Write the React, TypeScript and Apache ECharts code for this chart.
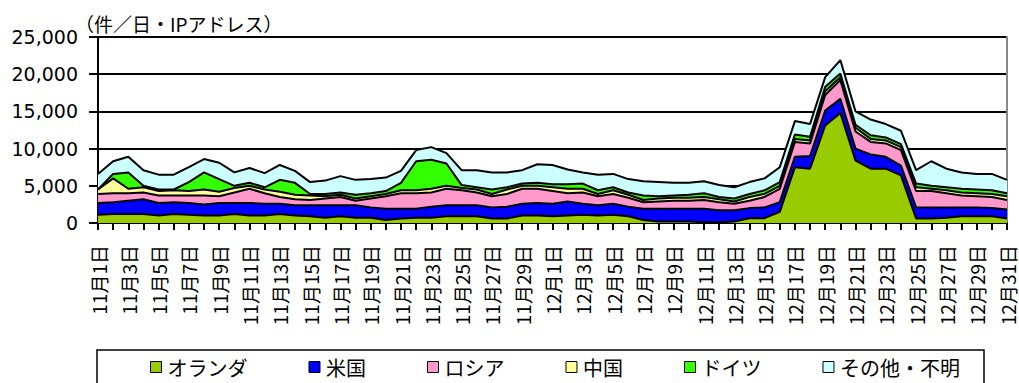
import React, { useEffect, useRef } from "react";
import * as echarts from "echarts";

// Daily counts per source country, 11/1 – 12/31
const days: string[] = [];
for (const [month, len] of [[11, 30], [12, 31]]) {
  for (let d = 1; d <= len; d++) days.push(`${month}月${d}日`);
}

const netherlands = [
  1100, 1200, 1200, 1200, 1000, 1200, 1100, 1000, 1000, 1200,
  1000, 1000, 1200, 1000, 900, 700, 900, 700, 700, 400,
  600, 700, 700, 900, 900, 900, 600, 600, 1000, 1000,
  900, 1000, 1100, 1000, 1100, 900, 400, 200, 200, 200,
  100, 100, 200, 650, 650, 1500, 7500, 7300, 13100, 14800,
  8400, 7300, 7300, 6400, 600, 600, 700, 900, 900, 900,
  600,
];
const usa = [
  1600, 1600, 1800, 2000, 1700, 1600, 1600, 1500, 1700, 1500,
  1700, 1600, 1400, 1400, 1500, 1700, 1500, 1700, 1400, 1500,
  1300, 1200, 1500, 1500, 1500, 1500, 1500, 1600, 1600, 1700,
  1700, 1900, 1500, 1400, 1500, 1300, 1500, 1700, 1700, 1700,
  1800, 1600, 1500, 1350, 1450, 1300, 1400, 1700, 2000, 1900,
  1600, 1900, 1600, 1300, 1500, 1500, 1400, 1200, 1200, 1100,
  1200,
];
const russia = [
  1200, 1200, 1000, 900, 1000, 900, 1000, 1200, 900, 1400,
  1900, 1400, 900, 800, 700, 900, 1100, 600, 1200, 1700,
  2100, 2100, 1900, 2200, 2000, 1700, 1500, 1700, 2000, 1900,
  1700, 1100, 1500, 1200, 1300, 1200, 900, 1000, 1100, 1100,
  1200, 1100, 900, 1000, 1400, 1800, 2000, 1700, 2100, 2500,
  2300, 1700, 1800, 2100, 2200, 2200, 1900, 1600, 1500, 1500,
  1300,
];
const china = [
  600, 2000, 600, 700, 600, 700, 600, 800, 600, 600,
  400, 500, 700, 600, 600, 300, 300, 300, 300, 300,
  400, 400, 500, 400, 300, 400, 300, 600, 400, 400,
  500, 600, 500, 300, 500, 400, 300, 400, 400, 400,
  400, 400, 300, 500, 400, 400, 400, 400, 500, 400,
  500, 400, 400, 400, 500, 300, 400, 400, 400, 400,
  500,
];
const germany = [
  0, 600, 2200, 200, 200, 100, 1200, 2300, 1700, 300,
  400, 300, 1600, 1600, 200, 300, 300, 500, 400, 400,
  1000, 3900, 3900, 3000, 400, 300, 600, 300, 300, 400,
  400, 600, 700, 500, 400, 300, 600, 300, 300, 400,
  500, 300, 400, 400, 500, 500, 600, 500, 600, 500,
  400, 500, 400, 400, 500, 400, 400, 500, 500, 500,
  400,
];
const other = [
  2100, 1700, 2100, 2100, 2000, 2000, 2000, 1800, 2200, 1800,
  2000, 1900, 2000, 1600, 1600, 1800, 2200, 2000, 1900, 1800,
  1600, 1500, 1700, 1400, 2000, 2300, 2300, 2000, 1800, 2500,
  2600, 2000, 1500, 2100, 1800, 1800, 1900, 1900, 1700, 1600,
  1600, 1600, 1500, 1600, 1600, 2000, 1800, 1700, 1300, 1800,
  1800, 2100, 1800, 1800, 1800, 3300, 2500, 2200, 2100, 2200,
  1800,
];

const seriesDefs = [
  { name: "オランダ", data: netherlands, color: "#99CC00" },
  { name: "米国", data: usa, color: "#0000FF" },
  { name: "ロシア", data: russia, color: "#FF99CC" },
  { name: "中国", data: china, color: "#FFFF99" },
  { name: "ドイツ", data: germany, color: "#33FF00" },
  { name: "その他・不明", data: other, color: "#CCFFFF" },
];

const yTicks = { min: 0, max: 25000, interval: 5000 };

const JP = '"Noto Sans CJK JP", "Liberation Sans", sans-serif';
const NUM = '"DejaVu Sans", "Liberation Sans", sans-serif';

export default function App() {
  const ref = useRef<HTMLDivElement>(null);

  useEffect(() => {
    if (!ref.current) return;
    const chart = echarts.init(ref.current, undefined, { renderer: "svg" });
    chart.setOption({
      animation: false,
      backgroundColor: "#ffffff",
      title: {
        text: "（件／日・IPアドレス）",
        left: 70,
        top: 9,
        textStyle: { fontFamily: JP, fontSize: 19, fontWeight: "normal", color: "#000" },
      },
      grid: { left: 98, right: 12, top: 37, bottom: 160 },
      legend: {
        left: 97,
        top: 350,
        padding: [7, 24, 12, 53],
        itemGap: 61,
        itemWidth: 11,
        itemHeight: 11,
        icon: "rect",
        borderColor: "#000",
        borderWidth: 1.5,
        itemStyle: { borderColor: "#000", borderWidth: 1 },
        textStyle: { fontFamily: JP, fontSize: 20, color: "#000", padding: [0, 0, 0, 1] },
        data: seriesDefs.map((s) => s.name),
      },
      xAxis: {
        type: "category",
        data: days,
        boundaryGap: false,
        axisLine: { lineStyle: { color: "#000", width: 2 } },
        axisTick: { interval: 0, length: 7, lineStyle: { color: "#000", width: 2 } },
        axisLabel: {
          interval: 1,
          rotate: 90,
          margin: 22,
          fontFamily: JP,
          fontSize: 19,
          color: "#000",
        },
      },
      yAxis: [
        {
          type: "value",
          ...yTicks,
          axisLine: { show: true, lineStyle: { color: "#000", width: 2 } },
          axisTick: { show: true, length: 9, lineStyle: { color: "#000", width: 2 } },
          splitLine: { lineStyle: { color: "#000", width: 2 } },
          axisLabel: {
            margin: 20,
            fontFamily: NUM,
            fontSize: 19,
            color: "#000",
            formatter: (v: number) => v.toLocaleString("en-US"),
          },
        },
        {
          type: "value",
          position: "right",
          ...yTicks,
          axisLine: { show: true, lineStyle: { color: "#888", width: 2 } },
          axisTick: { show: false },
          axisLabel: { show: false },
          splitLine: { show: false },
        },
      ],
      series: seriesDefs.map((s) => ({
        name: s.name,
        type: "line",
        stack: "total",
        data: s.data,
        symbol: "none",
        itemStyle: { color: s.color },
        lineStyle: { color: "#000", width: 2 },
        areaStyle: { color: s.color, opacity: 1 },
      })),
    });
    return () => chart.dispose();
  }, []);

  return (
    <div
      ref={ref}
      style={{ position: "fixed", left: 0, top: 0, width: 1019, height: 383, background: "#fff" }}
    />
  );
}
